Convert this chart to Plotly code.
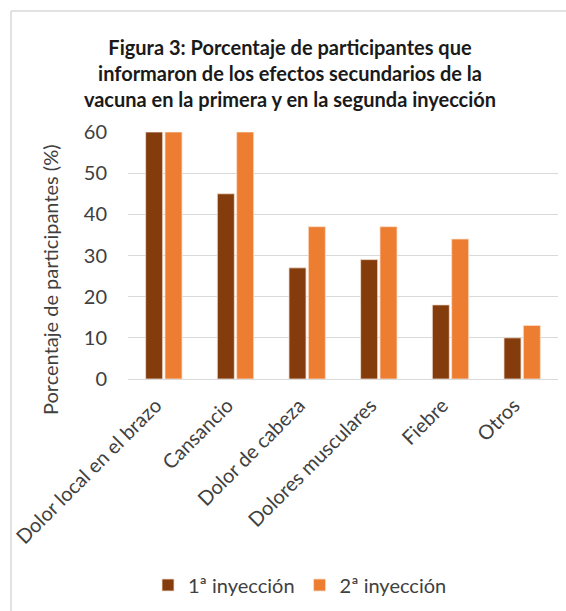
import plotly.graph_objects as go

categories = ["Dolor local en el brazo", "Cansancio", "Dolor de cabeza",
              "Dolores musculares", "Fiebre", "Otros"]
primera = [60, 45, 27, 29, 18, 10]
segunda = [60, 60, 37, 37, 34, 13]
series_names = ["1ª inyección", "2ª inyección"]
y_ticks = [0, 10, 20, 30, 40, 50, 60]

FONT = "Lato, 'Open Sans', sans-serif"
W, H = 566, 611
L, R, T, B = 128, 8, 132, 232
pw, ph = W - L - R, H - T - B

fig = go.Figure()
fig.add_trace(go.Bar(x=categories, y=primera, name=series_names[0],
                     marker=dict(color="#843C0C", line=dict(color="#F2E0D5", width=0.8))))
fig.add_trace(go.Bar(x=categories, y=segunda, name=series_names[1],
                     marker=dict(color="#ED7D31", line=dict(color="#FBE0CC", width=0.8))))

def px_x(x):
    return (x - L) / pw

def px_y(y):
    return (H - B - y) / ph

fig.update_layout(
    width=W, height=H,
    margin=dict(l=L, r=R, t=T, b=B, pad=0, autoexpand=False),
    paper_bgcolor="white", plot_bgcolor="white",
    barmode="group", bargap=0.46, bargroupgap=0.12,
    font=dict(family=FONT, color="#404040", size=20),
    title=dict(
        text="<b>Figura 3: Porcentaje de participantes que<br>informaron de los efectos secundarios de la<br>vacuna en la primera y en la segunda inyección</b>",
        x=(290) / W, xanchor="center", y=1 - 55 / H, yanchor="top",
        font=dict(family=FONT, size=20, color="#1a1a1a"),
    ),
    legend=dict(orientation="h", x=px_x(300), xanchor="center",
                y=px_y(585), yanchor="middle",
                font=dict(size=20, color="#404040"), itemwidth=30,
                traceorder="normal"),
    xaxis=dict(tickangle=-45, showgrid=False, showline=False, ticks="",
               automargin=False, ticklabelstandoff=10, ticklabelshift=-8,
               tickfont=dict(size=20, color="#404040")),
    yaxis=dict(range=[0, 60], tickvals=y_ticks, showgrid=True,
               gridcolor="#D9D9D9", gridwidth=1.2, zeroline=True,
               zerolinecolor="#D9D9D9", zerolinewidth=1.2,
               ticks="", ticklabelstandoff=20, automargin=False,
               tickfont=dict(size=20, color="#404040")),
    annotations=[
        dict(text="Porcentaje de participantes (%)", textangle=-90,
             xref="paper", yref="paper", x=px_x(50), y=px_y(280),
             xanchor="center", yanchor="middle", showarrow=False,
             font=dict(size=20, color="#404040")),
    ],
    shapes=[
        dict(type="line", xref="paper", yref="paper",
             x0=px_x(11), x1=px_x(566), y0=px_y(11), y1=px_y(11),
             line=dict(color="#D9D9D9", width=1.5)),
        dict(type="line", xref="paper", yref="paper",
             x0=px_x(11), x1=px_x(11), y0=px_y(11), y1=px_y(611),
             line=dict(color="#D9D9D9", width=1.5)),
    ],
)

fig.write_html("out.html", config={"displayModeBar": False},
               post_script="document.body.style.margin='0';document.body.style.overflow='hidden';")
